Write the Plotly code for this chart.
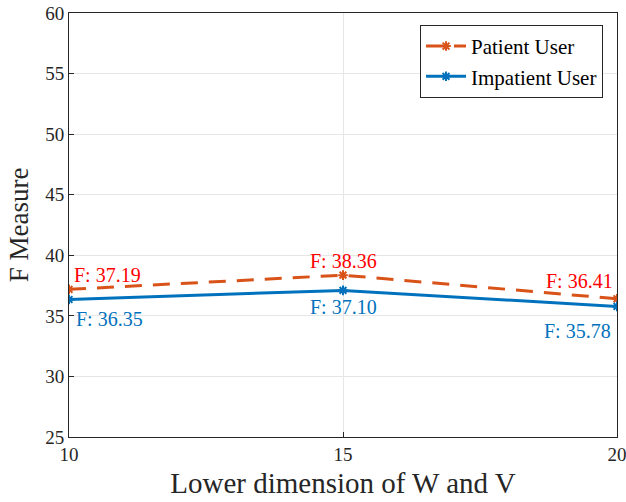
import plotly.graph_objects as go

dims = [10, 15, 20]
patient = [37.19, 38.36, 36.41]
impatient = [36.35, 37.10, 35.78]
y_ticks = [25, 30, 35, 40, 45, 50, 55, 60]

orange = '#D95319'
blue = '#0072BD'
font = 'Liberation Serif, Times New Roman, serif'

fig = go.Figure()
fig.add_trace(go.Scatter(
    x=dims, y=patient, mode='lines+markers', name='Patient User',
    line=dict(color=orange, width=3, dash='17px,11px'),
    marker=dict(symbol='asterisk-open', size=8, color=orange, line=dict(width=2, color=orange))
))
fig.add_trace(go.Scatter(
    x=dims, y=impatient, mode='lines+markers', name='Impatient User',
    line=dict(color=blue, width=3),
    marker=dict(symbol='asterisk-open', size=8, color=blue, line=dict(width=2, color=blue))
))

# data tips
tips = [
    (dims[0], patient[0], 'red', 'left', 'bottom', 3, 1),
    (dims[1], patient[1], 'red', 'center', 'bottom', 0, 1),
    (dims[2], patient[2], 'red', 'right', 'bottom', -2, 5),
    (dims[0], impatient[0], blue, 'left', 'top', 5, -6),
    (dims[1], impatient[1], blue, 'center', 'top', 0, -4),
    (dims[2], impatient[2], blue, 'right', 'top', -4, -12),
]
for x, y, c, xa, ya, xs, ys in tips:
    fig.add_annotation(x=x, y=y, text='F: %.2f' % y, showarrow=False,
                       xanchor=xa, yanchor=ya, xshift=xs, yshift=ys,
                       font=dict(family=font, size=20, color=c))

axis_common = dict(showline=True, mirror=True, linecolor='#262626', linewidth=1,
                   ticks='inside', ticklen=5, tickcolor='#262626',
                   showgrid=True, gridcolor='#e6e6e6', zeroline=False,
                   automargin=False, ticklabeloverflow='allow',
                   tickfont=dict(family=font, size=19, color='#262626'))

fig.update_layout(
    width=626, height=502,
    font=dict(family=font, color='#262626'),
    margin=dict(l=69, r=9, t=13, b=65),
    plot_bgcolor='white', paper_bgcolor='white',
    showlegend=True,
    xaxis=dict(range=[10, 20], tickvals=dims,
               title=dict(text='Lower dimension of W and V', standoff=8,
                          font=dict(family=font, size=29, color='#262626')),
               **axis_common),
    yaxis=dict(range=[25, 60], tickvals=y_ticks,
               title=dict(text='F Measure', standoff=8,
                          font=dict(family=font, size=27, color='#262626')),
               **axis_common),
    legend=dict(x=0.9745, y=0.972, xanchor='right', yanchor='top',
                bgcolor='white', bordercolor='#262626', borderwidth=1,
                font=dict(family=font, size=21, color='black'),
                tracegroupgap=0, itemwidth=40),
)

# drop the default page margin so the figure sits at the window's corner
fig.write_html("out.html", config={'displayModeBar': False},
               post_script="document.body.style.margin='0';document.body.style.overflow='hidden';")
